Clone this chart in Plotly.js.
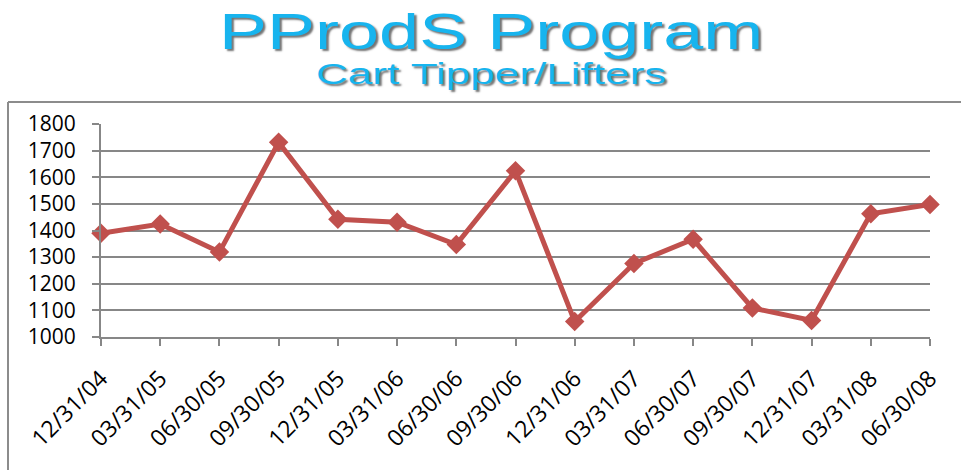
<!DOCTYPE html>
<html>
<head>
<meta charset="utf-8">
<script src="https://cdn.plot.ly/plotly-3.0.1.min.js"></script>
<style>
  html, body { margin: 0; padding: 0; background: #ffffff; }
  #chart { width: 961px; height: 470px; }
</style>
</head>
<body>
<div id="chart"></div>
<script>
var quarters = ["12/31/04","03/31/05","06/30/05","09/30/05","12/31/05","03/31/06","06/30/06","09/30/06","12/31/06","03/31/07","06/30/07","09/30/07","12/31/07","03/31/08","06/30/08"];
var values = [1390, 1424, 1319, 1731, 1442, 1431, 1347, 1624, 1058, 1276, 1367, 1109, 1062, 1463, 1498];
var yTicks = [1000, 1100, 1200, 1300, 1400, 1500, 1600, 1700, 1800];
var titleText = "PProdS Program";
var subtitleText = "Cart Tipper/Lifters";

var gridGray = "#878787";
var lineRed = "#C0504D";
var titleCyan = "#17B4EE";

var trace = {
  type: "scatter",
  mode: "lines+markers",
  x: quarters,
  y: values,
  line: { color: lineRed, width: 5 },
  marker: { symbol: "diamond", size: 15, color: lineRed },
  cliponaxis: false,
  hoverinfo: "x+y"
};

var layout = {
  width: 961,
  height: 470,
  margin: { l: 101, r: 31, t: 124, b: 133 },
  paper_bgcolor: "rgba(0,0,0,0)",
  plot_bgcolor: "rgba(0,0,0,0)",
  showlegend: false,
  font: { family: "Open Sans, sans-serif", color: "#000000" },
  xaxis: {
    type: "category",
    categoryorder: "array",
    categoryarray: quarters,
    range: [0, quarters.length - 1],
    showgrid: false,
    zeroline: false,
    showline: true,
    linecolor: gridGray,
    linewidth: 2,
    ticks: "outside",
    ticklen: 7,
    tickwidth: 2,
    tickcolor: gridGray,
    tickangle: -45,
    tickfont: { family: "Open Sans, sans-serif", size: 23, color: "#000000" },
    ticklabelstandoff: 10,
    fixedrange: true
  },
  yaxis: {
    range: [1000, 1800],
    tickvals: yTicks,
    ticktext: yTicks.map(String),
    showgrid: true,
    gridcolor: gridGray,
    gridwidth: 2,
    zeroline: false,
    showline: true,
    linecolor: gridGray,
    linewidth: 2,
    ticks: "outside",
    ticklen: 7,
    tickwidth: 2,
    tickcolor: gridGray,
    tickfont: { family: "Open Sans, sans-serif", size: 21, color: "#000000" },
    ticklabelstandoff: 12,
    fixedrange: true
  },
  shapes: [
    { type: "line", xref: "paper", yref: "paper",
      x0: (8 - 101) / 829, x1: (970 - 101) / 829, y0: (337 - 102) / 213, y1: (337 - 102) / 213,
      line: { color: "#8C8C8C", width: 2 } },
    { type: "line", xref: "paper", yref: "paper",
      x0: (8 - 101) / 829, x1: (8 - 101) / 829, y0: (337 - 102) / 213, y1: (337 - 480) / 213,
      line: { color: "#8C8C8C", width: 2 } }
  ],
  annotations: [
    { text: "<span style='font-size:49px'>" + titleText + "</span><br><span style='font-size:30px'>" + subtitleText + "</span>",
      xref: "paper", yref: "paper",
      x: (491 - 101) / 829, y: (337 - 48) / 213, xanchor: "center", yanchor: "middle",
      align: "center",
      showarrow: false,
      font: { family: "Liberation Sans, Arial, sans-serif", size: 27, color: titleCyan,
              shadow: "2px 2px 2px rgba(0,0,0,0.55)" } }
  ]
};

var stretch = 1.47;

Plotly.newPlot("chart", [trace], layout, { displayModeBar: false, staticPlot: true }).then(function (gd) {
  // Stretch the title text horizontally as in the reference
  var texts = gd.querySelectorAll(".infolayer .annotation text");
  texts.forEach(function (t) {
    var bb = t.getBBox();
    var cx = bb.x + bb.width / 2;
    var prev = t.getAttribute("transform") || "";
    t.setAttribute("transform", prev + " translate(" + cx + ",0) scale(" + stretch + ",1) translate(" + (-cx) + ",0)");
  });
});
</script>
</body>
</html>
